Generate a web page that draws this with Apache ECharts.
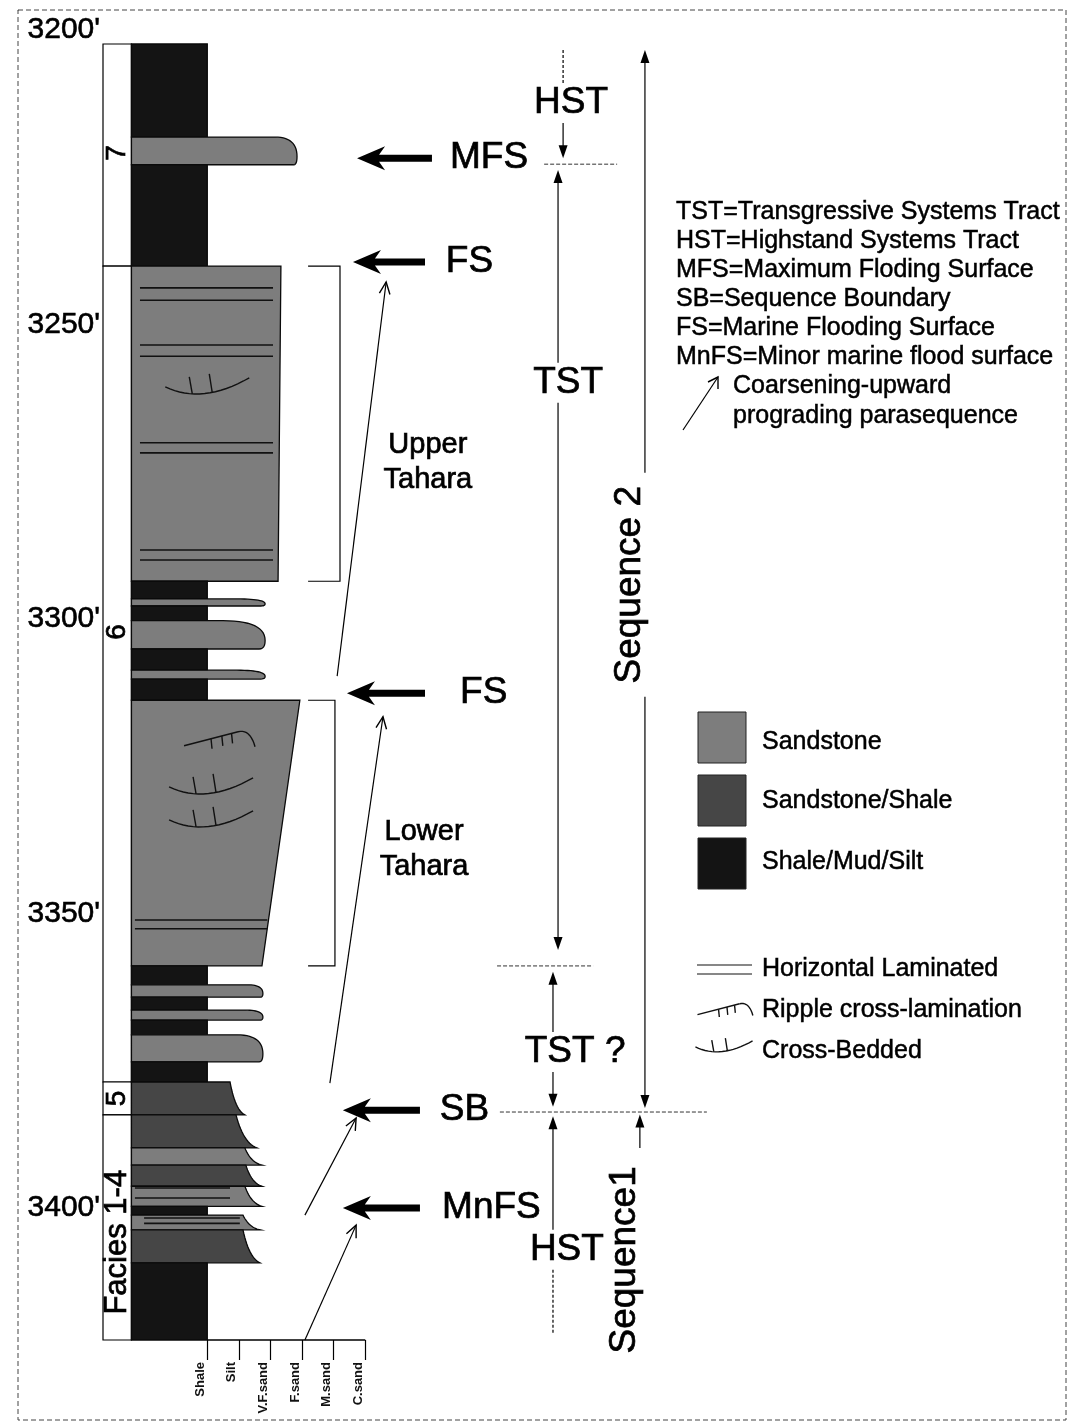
<!DOCTYPE html>
<html><head><meta charset="utf-8">
<script src="https://cdn.jsdelivr.net/npm/echarts@6.0.0/dist/echarts.min.js"></script>
<style>html,body{margin:0;padding:0;background:#fff}#c{width:1073px;height:1428px}</style>
</head><body><div id="c"></div>
<script>
// ---------------- DATA ----------------
const depthTicks = [3200, 3250, 3300, 3350, 3400];
const depthMin = 3200, depthMax = 3420;
const grainLabels = ['Shale', 'Silt', 'V.F.sand', 'F.sand', 'M.sand', 'C.sand'];
const grainTicks = [0, 1, 2, 3, 4, 5];

// beds (top depth in ft; base = next top)
const bedTop = [3200.0, 3215.8, 3220.5, 3237.7, 3291.2, 3294.2, 3295.4, 3297.9, 3302.7, 3306.3, 3307.8, 3311.4, 3356.5, 3359.7, 3361.8, 3364.0, 3365.7, 3368.2, 3372.8, 3376.2, 3381.8, 3387.4, 3390.3, 3393.9, 3397.3, 3398.8, 3401.3, 3406.9];
const bedLith = ['shale','sand','shale','sand','shale','sand','shale','sand','shale','sand','shale','sand','shale','sand','shale','sand','shale','sand','shale','mixed','mixed','sand','mixed','sand','shale','sand','mixed','shale'];
const bedGrainTop = [0, 2.14, 0, 2.33, 0, 0.94, 0, 0.5, 0, 0.94, 0, 2.93, 0, 1.26, 0, 1.2, 0, 0.94, 0, 0.72, 0.91, 1.19, 1.22, 1.19, 0, 1.13, 1.13, 0];
const bedGrainBase = [0, 2.84, 0, 2.24, 0, 1.83, 0, 1.83, 0, 1.83, 0, 1.73, 0, 1.76, 0, 1.76, 0, 1.76, 0, 1.19, 1.57, 1.73, 1.73, 1.73, 0, 1.67, 1.67, 0];
const bedShape = ['rect','tongue','rect','taper','rect','tongue','rect','tongue','rect','tongue','rect','taper','rect','tongue','rect','tongue','rect','tongue','rect','flare','flare','flare','flare','flare','rect','flare','flare','rect'];

// horizontal laminations
const lamDepth = [3241.4, 3243.5, 3251.1, 3253.0, 3267.7, 3269.4, 3285.9, 3287.6, 3348.7, 3350.2, 3394.2, 3395.9, 3399.3, 3400.2];
const lamFrom = [-2.13, -2.13, -2.13, -2.13, -2.13, -2.13, -2.13, -2.13, -2.29, -2.29, -2.29, -2.29, -2.0, -2.0];
const lamTo = [2.08, 2.08, 2.08, 2.08, 2.08, 2.08, 2.08, 2.08, 1.9, 1.9, 0.72, 0.72, 1.03, 1.03];

// sedimentary structures
const structDepth = [3258.7, 3318.1, 3326.6, 3332.2];
const structGrain = [0.0, 0.34, 0.12, 0.12];
const structType = ['cross', 'ripple', 'cross', 'cross'];

// facies
const faciesTop = [3200, 3237.7, 3376.2, 3381.8];
const faciesName = ['7', '6', '5', 'Facies 1-4'];
const faciesLabelDepth = [3218.5, 3299.8, 3379.0, 3403.4];

// key surfaces
const surfaceName = ['MFS', 'FS', 'FS', 'SB', 'MnFS'];
const surfaceDepth = [3219.4, 3237.0, 3310.2, 3381.0, 3397.6];

// Tahara units
const unitName = ['Upper\nTahara', 'Lower\nTahara'];
const unitTop = [3237.7, 3311.4];
const unitBase = [3291.2, 3356.5];
const unitLabelDepth = [3271.0, 3336.8];

// coarsening-upward parasequences (base -> top)
const psBaseDepth = [3307.3, 3376.4, 3398.8, 3420.0];
const psTopDepth = [3240.4, 3314.2, 3382.3, 3400.5];

// systems tracts
const tractName = ['HST', 'TST', 'TST ?', 'HST'];
const tractTop = [3201.0, 3221.4, 3357.5, 3382.0];
const tractBase = [3219.4, 3353.8, 3380.4, 3419.0];
const tractLabelDepth = [3210.0, 3257.5, 3371.1, 3404.7];
const tractBoundaryDepth = [3220.4, 3356.5, 3381.3];

// sequences
const seqName = ['Sequence 2', 'Sequence1'];
const seqTop = [3201.0, 3381.7];
const seqBase = [3380.6, null];
const seqLabelDepth = [3291.8, 3406.4];

// legend texts
const legendTerms = ['TST=Transgressive Systems Tract', 'HST=Highstand Systems Tract', 'MFS=Maximum Floding Surface', 'SB=Sequence Boundary', 'FS=Marine Flooding Surface', 'MnFS=Minor marine flood surface'];
const legendNote = ['Coarsening-upward', 'prograding parasequence'];
const lithKeys = ['sand', 'mixed', 'shale'];
const lithNames = ['Sandstone', 'Sandstone/Shale', 'Shale/Mud/Silt'];
const structNames = ['Horizontal Laminated', 'Ripple cross-lamination', 'Cross-Bedded'];

// ---------------- LAYOUT / STYLE ----------------
const FONT = '"Liberation Sans", Arial, Helvetica, sans-serif';
const lithColor = { sand: '#7d7d7d', mixed: '#464646', shale: '#141414' };
const X_MIN = -3.3, X_MAX = 27, COL_LEFT = -2.4;
const L = {
  surfHead: [4.74, 4.61, 4.42, 4.29, 4.29],
  surfTail: [7.11, 6.89, 6.89, 6.73, 6.73],
  surfLabel: [7.68, 7.55, 8.0, 7.36, 7.43],
  unitX0: [3.19, 3.19], unitX1: [4.20, 4.04], unitLabelX: [6.98, 6.86],
  psX0: [4.11, 3.88, 3.09, 3.09], psX1: [5.66, 5.56, 4.71, 4.71],
  tractX: [11.26, 11.1, 10.94, 10.94], tractLabelX: [11.51, 11.42, 11.64, 11.38],
  tractTopEnd: ['open', 'arrow', 'arrow', 'arrow'], tractBaseEnd: ['arrow', 'arrow', 'arrow', 'open'],
  boundX0: [10.66, 9.17, 9.26], boundX1: [12.97, 12.21, 15.81],
  seqX: [13.85, 13.69], seqLabelX: [13.38, 13.22]
};

// ---------------- HELPERS ----------------
function quad(p0, c, p1, n) {
  const out = [];
  for (let k = 1; k <= n; k++) {
    const t = k / n, u = 1 - t;
    out.push([u*u*p0[0] + 2*u*t*c[0] + t*t*p1[0], u*u*p0[1] + 2*u*t*c[1] + t*t*p1[1]]);
  }
  return out;
}
function lineEl(p0, p1, extra) {
  return { type: 'line', shape: { x1: p0[0], y1: p0[1], x2: p1[0], y2: p1[1] },
    style: Object.assign({ stroke: '#000', lineWidth: 1.2 }, extra || {}) };
}
function triEl(tip, dir, len, hw) {
  const bx = tip[0] - dir[0]*len, by = tip[1] - dir[1]*len;
  return { type: 'polygon', shape: { points: [tip, [bx - dir[1]*hw, by + dir[0]*hw], [bx + dir[1]*hw, by - dir[0]*hw]] }, style: { fill: '#000' } };
}
function textEl(txt, p, size, opt) {
  opt = opt || {};
  return { type: 'text', x: p[0], y: p[1], rotation: opt.rotation || 0,
    style: { text: txt, fontSize: size, fontFamily: FONT, fill: '#000', align: opt.align || 'center', verticalAlign: 'middle', lineHeight: opt.lineHeight || size * 1.2, stroke: '#000', lineWidth: 0.7 } };
}
function legendText(t, x, y) {
  return { type: 'text', x: x, y: y, style: { text: t, fontSize: 25, fontFamily: FONT, fill: '#000', align: 'left', verticalAlign: 'middle', stroke: '#000', lineWidth: 0.5 } };
}
function crossSym(cx, cy, s) {
  const a = [cx - 42*s, cy - 3*s];
  const pts = [a].concat(quad(a, [cx - 5*s, cy + 15*s], [cx + 42*s, cy - 12*s], 16));
  return [
    { type: 'polyline', shape: { points: pts }, style: { stroke: '#111', lineWidth: 1.4, fill: null } },
    lineEl([cx - 15*s, cy + 4*s], [cx - 18*s, cy - 13*s], { stroke: '#111', lineWidth: 1.4 }),
    lineEl([cx + 5*s, cy + 3*s], [cx + 2*s, cy - 16*s], { stroke: '#111', lineWidth: 1.4 })
  ];
}
function rippleSym(cx, cy, s) {
  const a = [cx - 34*s, cy + 6*s], b = [cx + 20*s, cy - 8*s];
  const hook = [b].concat(quad(b, [cx + 32*s, cy - 11*s], [cx + 37*s, cy + 7*s], 10));
  const tick = t => { const p = [a[0] + (b[0]-a[0])*t, a[1] + (b[1]-a[1])*t]; return lineEl(p, [p[0] + 1*s, p[1] + 10*s], { stroke: '#111', lineWidth: 1.4 }); };
  return [
    lineEl(a, b, { stroke: '#111', lineWidth: 1.4 }),
    { type: 'polyline', shape: { points: hook }, style: { stroke: '#111', lineWidth: 1.4, fill: null } },
    tick(0.5), tick(0.7), tick(0.88)
  ];
}

// ---------------- RENDERERS ----------------
function renderBed(params, api) {
  const i = params.dataIndex;
  const top = bedTop[i], base = i < bedTop.length - 1 ? bedTop[i + 1] : depthMax;
  const pLT = api.coord([COL_LEFT, top]), pLB = api.coord([COL_LEFT, base]);
  const pT = api.coord([bedGrainTop[i], top]), pB = api.coord([bedGrainBase[i], base]);
  let pts = [pLT, pT];
  const sh = bedShape[i];
  const h = pB[1] - pT[1];
  if (sh === 'tongue') {
    const p1 = [pB[0], pB[1] - 0.3*h];
    pts = pts.concat(quad(pT, [pB[0], pT[1]], p1, 14));
    pts = pts.concat(quad(p1, [pB[0], pB[1]], [pB[0] - Math.min(6, 0.15*(pB[0]-pT[0])), pB[1]], 6));
  } else if (sh === 'flare') {
    pts = pts.concat(quad(pT, [pT[0] + 0.35*(pB[0]-pT[0]), pT[1] + 0.85*h], pB, 14));
  } else {
    pts.push(pB);
  }
  pts.push(pLB);
  return { type: 'polygon', shape: { points: pts }, style: { fill: lithColor[bedLith[i]], stroke: '#0a0a0a', lineWidth: 1.3 } };
}
function renderLam(params, api) {
  const i = params.dataIndex;
  return lineEl(api.coord([lamFrom[i], lamDepth[i]]), api.coord([lamTo[i], lamDepth[i]]), { stroke: '#111', lineWidth: 1.6 });
}
function renderStruct(params, api) {
  const i = params.dataIndex;
  const p = api.coord([structGrain[i], structDepth[i]]);
  return { type: 'group', children: structType[i] === 'cross' ? crossSym(p[0], p[1], 1) : rippleSym(p[0], p[1], 1) };
}
function renderFacies(params, api) {
  const i = params.dataIndex;
  const top = faciesTop[i], base = i < faciesTop.length - 1 ? faciesTop[i + 1] : depthMax;
  const a = api.coord([X_MIN, top]), b = api.coord([COL_LEFT, base]);
  const lp = api.coord([(X_MIN + COL_LEFT) / 2, faciesLabelDepth[i]]);
  return { type: 'group', children: [
    { type: 'rect', shape: { x: a[0], y: a[1], width: b[0] - a[0], height: b[1] - a[1] }, style: { fill: '#fff', stroke: '#000', lineWidth: 1.2 } },
    textEl(faciesName[i], lp, faciesName[i].length > 2 ? 31 : 28, { rotation: Math.PI / 2 })
  ] };
}
function renderAxisLine(params, api) {
  return lineEl(api.coord([grainTicks[0], depthMax]), api.coord([grainTicks[grainTicks.length - 1], depthMax]), { lineWidth: 1.5 });
}
function renderSurface(params, api) {
  const i = params.dataIndex;
  const h = api.coord([L.surfHead[i], surfaceDepth[i]]), t = api.coord([L.surfTail[i], surfaceDepth[i]]);
  const y = h[1], x = h[0];
  const pts = [[x, y], [x + 28, y - 12], [x + 22, y - 3.5], [t[0], y - 3.5], [t[0], y + 3.5], [x + 22, y + 3.5], [x + 28, y + 12]];
  return { type: 'group', children: [
    { type: 'polygon', shape: { points: pts }, style: { fill: '#000' } },
    textEl(surfaceName[i], api.coord([L.surfLabel[i], surfaceDepth[i]]), 37, { align: 'left' })
  ] };
}
function renderUnit(params, api) {
  const i = params.dataIndex;
  const a0 = api.coord([L.unitX0[i], unitTop[i]]), a1 = api.coord([L.unitX1[i], unitTop[i]]);
  const b0 = api.coord([L.unitX0[i], unitBase[i]]), b1 = api.coord([L.unitX1[i], unitBase[i]]);
  return { type: 'group', children: [
    { type: 'polyline', shape: { points: [a0, a1, b1, b0] }, style: { stroke: '#000', lineWidth: 1.2, fill: null } },
    textEl(unitName[i], api.coord([L.unitLabelX[i], unitLabelDepth[i]]), 29, { lineHeight: 35 })
  ] };
}
function renderPs(params, api) {
  const i = params.dataIndex;
  const a = api.coord([L.psX0[i], psBaseDepth[i]]), b = api.coord([L.psX1[i], psTopDepth[i]]);
  const dx = b[0] - a[0], dy = b[1] - a[1], len = Math.hypot(dx, dy);
  const ux = dx / len, uy = dy / len, hl = 13, ang = 0.42;
  const w1 = [b[0] - hl*(ux*Math.cos(ang) - uy*Math.sin(ang)), b[1] - hl*(uy*Math.cos(ang) + ux*Math.sin(ang))];
  const w2 = [b[0] - hl*(ux*Math.cos(-ang) - uy*Math.sin(-ang)), b[1] - hl*(uy*Math.cos(-ang) + ux*Math.sin(-ang))];
  return { type: 'group', children: [
    lineEl(a, b, { lineWidth: 1.2 }),
    { type: 'polyline', shape: { points: [w1, b, w2] }, style: { stroke: '#000', lineWidth: 1.4, fill: null } }
  ] };
}
function renderTract(params, api) {
  const i = params.dataIndex, x = L.tractX[i];
  const pTop = api.coord([x, tractTop[i]]), pBase = api.coord([x, tractBase[i]]);
  const yL = api.coord([x, tractLabelDepth[i]])[1];
  const gap = 20, ch = [];
  const upEnd = [pTop[0], yL - gap], dnStart = [pTop[0], yL + gap];
  if (L.tractTopEnd[i] === 'arrow') { ch.push(lineEl([pTop[0], pTop[1] + 10], upEnd)); ch.push(triEl(pTop, [0, -1], 13, 4.5)); }
  else ch.push(lineEl(pTop, upEnd, { lineDash: [3, 2] }));
  if (L.tractBaseEnd[i] === 'arrow') { ch.push(lineEl(dnStart, [pTop[0], pBase[1] - 10])); ch.push(triEl([pTop[0], pBase[1]], [0, 1], 13, 4.5)); }
  else ch.push(lineEl(dnStart, [pTop[0], pBase[1]], { lineDash: [3, 2] }));
  ch.push(textEl(tractName[i], api.coord([L.tractLabelX[i], tractLabelDepth[i]]), 37));
  return { type: 'group', children: ch };
}
function renderBoundary(params, api) {
  const i = params.dataIndex;
  return lineEl(api.coord([L.boundX0[i], tractBoundaryDepth[i]]), api.coord([L.boundX1[i], tractBoundaryDepth[i]]), { stroke: '#333', lineWidth: 1, lineDash: [4, 2] });
}
function renderSeq(params, api) {
  const i = params.dataIndex, x = L.seqX[i];
  const pTop = api.coord([x, seqTop[i]]);
  const yL = api.coord([x, seqLabelDepth[i]])[1];
  const gap = 112, ch = [];
  ch.push(lineEl([pTop[0], pTop[1] + 10], [pTop[0], yL - gap]));
  ch.push(triEl(pTop, [0, -1], 13, 4.5));
  if (seqBase[i] !== null) {
    const pB = api.coord([x, seqBase[i]]);
    ch.push(lineEl([pTop[0], yL + gap], [pTop[0], pB[1] - 10]));
    ch.push(triEl([pTop[0], pB[1]], [0, 1], 13, 4.5));
  }
  ch.push(textEl(seqName[i], api.coord([L.seqLabelX[i], seqLabelDepth[i]]), 37, { rotation: Math.PI / 2 }));
  return { type: 'group', children: ch };
}

function custom(name, n, fn, z) {
  const data = [];
  for (let k = 0; k < n; k++) data.push([0, depthMin]);
  return { type: 'custom', name: name, coordinateSystem: 'cartesian2d', clip: false, silent: true, z: z || 2, data: data, renderItem: fn };
}

// ---------------- LEGEND GRAPHICS ----------------
const G = [];
G.push({ type: 'rect', shape: { x: 18, y: 10, width: 1048, height: 1410 }, style: { fill: 'none', stroke: '#444', lineWidth: 1, lineDash: [5, 3] }, z: 0 });
legendTerms.forEach((t, k) => G.push(legendText(t, 676, 212 + 29*k)));
legendNote.forEach((t, k) => G.push(legendText(t, 733, 386 + 30*k)));
G.push({ type: 'line', shape: { x1: 683, y1: 430, x2: 718, y2: 377 }, style: { stroke: '#000', lineWidth: 1.2 } });
G.push({ type: 'polyline', shape: { points: [[708, 382], [718, 377], [718, 389]] }, style: { stroke: '#000', lineWidth: 1.4, fill: null } });
lithKeys.forEach((k, j) => {
  G.push({ type: 'rect', shape: { x: 698, y: 712 + 63*j, width: 48, height: 51 }, style: { fill: lithColor[k], stroke: '#222', lineWidth: 1 } });
  G.push(legendText(lithNames[j], 762, 742 + 59*j + (j === 2 ? 2 : 0)));
});
G.push({ type: 'line', shape: { x1: 697, y1: 965, x2: 752, y2: 965 }, style: { stroke: '#111', lineWidth: 1.2 } });
G.push({ type: 'line', shape: { x1: 697, y1: 974, x2: 752, y2: 974 }, style: { stroke: '#111', lineWidth: 1.2 } });
rippleSym(724, 1010, 0.78).forEach(e => G.push(e));
crossSym(724, 1049, 0.68).forEach(e => G.push(e));
structNames.forEach((t, k) => G.push(legendText(t, 762, 969 + 41*k)));

// ---------------- CHART ----------------
const chart = echarts.init(document.getElementById('c'), null, { renderer: 'canvas' });
chart.setOption({
  backgroundColor: '#ffffff',
  animation: false,
  grid: { left: 103, top: 44, width: (X_MAX - X_MIN) * 31.6, height: 1296, outerBoundsMode: 'none', containLabel: false },
  xAxis: {
    type: 'value', min: X_MIN, max: X_MAX,
    axisLine: { show: false }, splitLine: { show: false },
    axisTick: { show: true, customValues: grainTicks, length: 20, lineStyle: { color: '#000', width: 1.2 } },
    axisLabel: { customValues: grainTicks, rotate: 90, formatter: v => grainLabels[Math.round(v)] || '', fontSize: 13, fontWeight: 'bold', margin: 22, color: '#111', fontFamily: FONT, verticalAlign: 'bottom', lineHeight: 14 }
  },
  yAxis: {
    type: 'value', inverse: true, min: depthMin, max: depthMax, interval: 50,
    axisLine: { show: false }, splitLine: { show: false },
    axisTick: { show: true, customValues: depthTicks, length: 8, lineStyle: { color: '#000', width: 1.2 } },
    axisLabel: { customValues: depthTicks, formatter: v => v + "'", fontSize: 30, fontFamily: FONT, color: '#000', margin: 3, verticalAlign: 'bottom', lineHeight: 28, textBorderColor: '#000', textBorderWidth: 0.6 }
  },
  graphic: G,
  series: [
    custom('facies', faciesTop.length, renderFacies, 1),
    custom('beds', bedTop.length, renderBed, 2),
    custom('laminations', lamDepth.length, renderLam, 3),
    custom('structures', structDepth.length, renderStruct, 3),
    custom('axisline', 1, renderAxisLine, 3),
    custom('surfaces', surfaceDepth.length, renderSurface, 3),
    custom('units', unitTop.length, renderUnit, 3),
    custom('parasequences', psBaseDepth.length, renderPs, 3),
    custom('tracts', tractName.length, renderTract, 3),
    custom('boundaries', tractBoundaryDepth.length, renderBoundary, 3),
    custom('sequences', seqName.length, renderSeq, 3)
  ]
});
</script></body></html>
